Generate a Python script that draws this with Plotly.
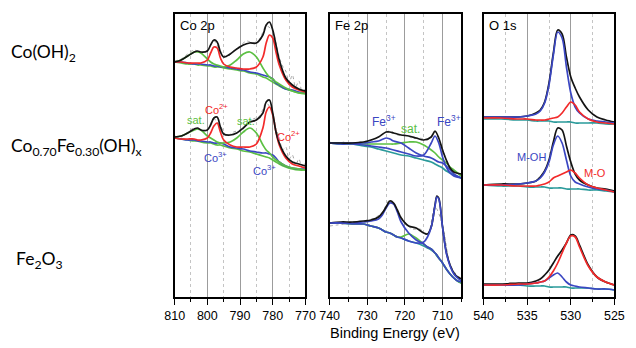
import plotly.graph_objects as go

# ---------------- data (intensity in arbitrary units, stacked offsets) ----------------
# Co 2p panel
co_ev = [810, 808, 806, 804, 803, 802, 800, 799, 798, 797, 796, 795, 793, 791, 789, 787,
         785, 783, 782, 781, 780, 779, 778, 776, 774, 772, 770]
co_top_env = [235, 237, 241, 245, 246, 245, 246, 252, 257, 255, 245, 240, 243, 248, 252, 254,
              254, 262, 272, 275, 267, 252, 237, 219, 212, 208, 206]
co_top_co2 = [235, 235, 234, 234, 234, 234, 237, 244, 250, 249, 239, 233, 230, 229, 228, 228,
              230, 240, 254, 262, 259, 245, 232, 217, 210, 207, 205]
co_top_sat = [235, 237, 241, 245, 245, 244, 238, 235, 233, 232, 231, 230, 232, 237, 243, 245,
              240, 229, 224, 220, 218, 215, 213, 209, 206, 204, 204]
co_top_co3 = [235, 235, 234, 233, 233, 233, 232, 232, 231, 231, 230, 230, 229, 228, 227, 225,
              224, 222, 221, 220, 218, 214, 212, 208, 207, 205, 204]
co_top_bg = [235, 234, 233, 233, 232, 232, 231, 231, 230, 230, 230, 229, 228, 227, 226, 224,
             223, 220, 219, 217, 215, 213, 211, 208, 206, 204, 203]

co_mid_env = [160, 161, 164, 168, 169, 167, 167, 172, 179, 180, 170, 163, 162, 164, 169, 175,
              177, 184, 195, 197, 184, 165, 154, 141, 135, 133, 131]
co_mid_co2 = [159, 158, 158, 158, 157, 157, 159, 164, 171, 174, 165, 157, 152, 150, 150, 150,
              153, 169, 185, 190, 182, 165, 152, 139, 133, 131, 129]
co_mid_sat = [160, 161, 164, 167, 168, 167, 161, 159, 157, 155, 154, 154, 155, 159, 165, 169,
              164, 152, 147, 144, 140, 137, 135, 131, 129, 128, 127]
co_mid_co3 = [159, 158, 157, 157, 156, 156, 155, 155, 154, 154, 154, 153, 150, 149, 148, 146,
              145, 144, 144, 143, 142, 139, 135, 131, 129, 128, 128]
co_mid_bg = [159, 158, 157, 156, 156, 155, 154, 154, 153, 152, 152, 151, 149, 148, 146, 145,
             143, 141, 140, 139, 137, 135, 133, 130, 128, 127, 127]

co_raw_ev = [810, 808, 806, 804, 802, 800, 798, 796, 794, 792, 790, 788, 786, 784, 782, 780,
             779, 778, 777, 776, 775, 774, 773, 772, 771, 770]
co_top_raw = [236, 238, 243, 247, 244, 247, 256, 246, 240, 246, 251, 256, 254, 258, 271, 266,
              254, 240, 231, 226, 214, 222, 210, 216, 206, 208]
co_mid_raw = [161, 160, 165, 169, 166, 168, 178, 171, 161, 165, 167, 173, 178, 181, 194, 184,
              168, 160, 147, 150, 138, 142, 132, 138, 129, 134]

# Fe 2p panel
fe_mid_ev = [740, 737, 734, 731, 729, 727, 725, 724, 723, 721, 719, 717, 715, 713, 712, 711,
             710, 709, 708, 707, 705]
fe_mid_env = [154, 154, 154, 155, 157, 160, 165, 165, 164, 162, 161, 159, 157, 160, 166, 159,
              147, 137, 129, 125, 123]
fe_mid_fe3a = [154, 154, 154, 154, 155, 156, 159, 158, 156, 154, 149, 144, 141, 139, 137, 135,
               134, 131, 127, 123, 119]
fe_mid_fe3b = [154, 153, 153, 152, 151, 150, 149, 148, 147, 145, 143, 141, 142, 154, 161, 154,
               140, 130, 124, 121, 119]
fe_mid_sat = [154, 154, 153, 153, 153, 153, 153, 153, 153, 154, 155, 155, 152, 147, 144, 140,
              137, 134, 130, 127, 121]
fe_mid_bg = [154, 153, 153, 151, 150, 148, 146, 145, 144, 142, 141, 139, 137, 135, 133, 131,
             129, 126, 124, 122, 119]

fe_bot_ev = [740, 737, 734, 731, 729, 727, 726, 725, 724, 723, 722, 721, 719, 717, 715, 714,
             713, 712, 711.5, 711, 710, 709, 708, 707, 706, 705]
fe_bot_env = [74, 75, 75, 76, 77, 80, 84, 90, 96, 94, 87, 79, 71, 69, 64, 63,
              70, 92, 101, 99, 70, 45, 32, 24, 20, 18]
fe_bot_fe3a = [74, 74, 74, 75, 76, 78, 82, 89, 94, 93, 85, 75, 64, 57, 53, 50,
               48, 44, 42, 39, 34, 28, 23, 19, 16, 15]
fe_bot_fe3b = [74, 74, 73, 73, 71, 69, 67, 65, 64, 62, 60, 59, 56, 54, 55, 60,
               70, 91, 100, 98, 70, 44, 31, 23, 19, 16]
fe_bot_sat = [74, 74, 73, 73, 71, 69, 67, 65, 64, 62, 60, 60, 63, 59, 53, 50,
              48, 44, 42, 39, 34, 28, 23, 19, 16, 14]
fe_bot_bg = [74, 74, 73, 73, 71, 69, 67, 65, 64, 62, 60, 59, 56, 54, 51, 49,
             47, 44, 41, 39, 34, 28, 23, 19, 16, 14]

fe_raw_ev = [740, 738, 736, 734, 732, 730, 728, 726, 724, 722, 720, 718, 716, 714, 712, 710,
             708, 706, 705]
fe_mid_raw = [155, 153, 155, 153, 155, 156, 158, 163, 166, 162, 162, 159, 159, 157, 165, 148,
              129, 124, 122]
fe_bot_raw = [71, 72, 73, 75, 75, 77, 79, 85, 97, 86, 75, 68, 68, 62, 90, 72,
              33, 21, 19]

# O 1s panel
o_ev = [540, 538, 536, 535, 534, 533.5, 533, 532.5, 532, 531.5, 531, 530.5, 530, 529.5, 529,
        528, 527, 526, 525]
o_top_env = [180, 180, 180, 181, 184, 187, 195, 214, 244, 267, 263, 240, 220, 209, 200,
             187, 180, 177, 175]
o_top_moh = [180, 180, 180, 181, 183, 186, 194, 212, 242, 265, 259, 230, 204, 190, 184,
             178, 176, 175, 174]
o_top_mo = [179, 179, 178, 178, 177, 177, 177, 178, 179, 180, 184, 190, 195, 192, 185,
            178, 175, 174, 173]
o_top_bg = [178, 178, 177, 177, 176, 176, 176, 176, 175, 175, 175, 175, 175, 174, 174,
            174, 174, 173, 173]

o_mid_env = [112, 113, 113, 114, 116, 120, 126, 137, 155, 169, 167, 151, 135, 123, 117,
             112, 109, 108, 106]
o_mid_moh = [112, 112, 113, 114, 116, 119, 125, 135, 152, 161, 154, 137, 121, 115, 113,
             110, 108, 107, 105]
o_mid_mo = [112, 112, 111, 111, 111, 112, 113, 115, 119, 121, 123, 125, 127, 124, 119,
            112, 109, 107, 105]
o_mid_bg = [112, 111, 111, 110, 110, 110, 110, 109, 109, 109, 109, 108, 108, 108, 108,
            107, 107, 106, 105]

o_bot_env = [13, 13, 14, 14, 16, 18, 22, 27, 34, 41, 47, 54, 62, 61, 52, 32, 20, 15, 12]
o_bot_mo = [12, 12, 13, 13, 14, 15, 16, 20, 26, 34, 44, 54, 61, 60, 50, 31, 20, 15, 12]
o_bot_moh = [12, 12, 12, 13, 14, 15, 16, 19, 22, 24, 20, 15, 12, 11, 10, 9, 8, 8, 7]
o_bot_bg = [12, 12, 12, 11, 11, 11, 11, 10, 10, 10, 10, 10, 9, 9, 9, 9, 8, 8, 7]

panel_titles = ["Co 2p", "Fe 2p", "O 1s"]
sample_labels = ["Co(OH)<sub>2</sub>",
                 "Co<sub>0.70</sub>Fe<sub>0.30</sub>(OH)<sub>x</sub>",
                 "Fe<sub>2</sub>O<sub>3</sub>"]
x_title = "Binding Energy (eV)"

# ---------------- styling ----------------
W, H = 636, 348
RED = '#f22a2a'
GREEN = '#5cc043'
BLUE = '#3a46c2'
TEAL = '#2a9a9a'
BLACK = '#141414'
GRAY = '#a4a4a4'

fig = go.Figure()


def line(x, y, color, ax, width=1.7, dash=None):
    fig.add_trace(go.Scatter(
        x=x, y=y, mode='lines',
        line=dict(color=color, width=width, shape='spline', smoothing=0.9, dash=dash),
        xaxis=ax[0], yaxis=ax[1], hoverinfo='skip', showlegend=False))


A1, A2, A3 = ('x', 'y'), ('x2', 'y2'), ('x3', 'y3')

# Co panel
line(co_raw_ev, co_top_raw, GRAY, A1, 1, 'dot')
line(co_raw_ev, co_mid_raw, GRAY, A1, 1, 'dot')
for env, co2, sat, co3, bg in [(co_top_env, co_top_co2, co_top_sat, co_top_co3, co_top_bg),
                               (co_mid_env, co_mid_co2, co_mid_sat, co_mid_co3, co_mid_bg)]:
    line(co_ev, bg, GREEN, A1)
    line(co_ev, co3, BLUE, A1)
    line(co_ev, sat, GREEN, A1)
    line(co_ev, co2, RED, A1)
    line(co_ev, env, BLACK, A1)

# Fe panel
line(fe_raw_ev, fe_mid_raw, GRAY, A2, 1, 'dot')
line(fe_raw_ev, fe_bot_raw, GRAY, A2, 1, 'dot')
line(fe_mid_ev, fe_mid_bg, TEAL, A2)
line(fe_mid_ev, fe_mid_sat, GREEN, A2)
line(fe_mid_ev, fe_mid_fe3a, BLUE, A2)
line(fe_mid_ev, fe_mid_fe3b, BLUE, A2)
line(fe_mid_ev, fe_mid_env, BLACK, A2)
line(fe_bot_ev, fe_bot_bg, TEAL, A2)
line(fe_bot_ev, fe_bot_sat, GREEN, A2)
line(fe_bot_ev, fe_bot_fe3a, BLUE, A2)
line(fe_bot_ev, fe_bot_env, BLACK, A2)
line(fe_bot_ev, fe_bot_fe3b, BLUE, A2)

# O panel
for env, moh, mo, bg in [(o_top_env, o_top_moh, o_top_mo, o_top_bg),
                         (o_mid_env, o_mid_moh, o_mid_mo, o_mid_bg),
                         (o_bot_env, o_bot_moh, o_bot_mo, o_bot_bg)]:
    line(o_ev, bg, TEAL, A3)
    line(o_ev, env, BLACK, A3)
    line(o_ev, moh, BLUE, A3)
    line(o_ev, mo, RED, A3)

tickfont = dict(family='Liberation Sans, Arial, sans-serif', size=12.5, color='black')


def xax(dom, rng, dtick, tick0, mdtick, mtick0, anchor):
    return dict(domain=[dom[0] / W, dom[1] / W], range=rng, dtick=dtick, tick0=tick0,
                showline=True, linecolor='black', linewidth=1.5, mirror=True,
                ticks='outside', ticklen=6, tickwidth=1, tickcolor='black',
                showgrid=True, gridcolor='#9c9c9c', gridwidth=1.2, zeroline=False,
                tickfont=tickfont, anchor=anchor,
                minor=dict(dtick=mdtick, tick0=mtick0, ticks='outside', ticklen=3,
                           tickcolor='black', showgrid=True, gridcolor='#c4c4c4',
                           griddash='dot', gridwidth=1))


def yax(anchor):
    return dict(domain=[51 / H, 334 / H], range=[0, 283], showline=True, linecolor='black',
                linewidth=1.5, mirror=True, ticks='', showticklabels=False, showgrid=False,
                zeroline=False, anchor=anchor)


fig.update_layout(
    width=W, height=H, margin=dict(l=0, r=0, t=0, b=0),
    paper_bgcolor='white', plot_bgcolor='white', showlegend=False,
    xaxis=xax((170, 305), [810, 770], 10, 770, 5, 775, 'y'),
    xaxis2=xax((330, 466), [740, 705], 10, 710, 5, 705, 'y2'),
    xaxis3=xax((489, 624), [540, 525], 5, 525, 2.5, 527.5, 'y3'),
    yaxis=yax('x'), yaxis2=yax('x2'), yaxis3=yax('x3'),
)

ann = []
lab = 'Liberation Sans, Arial, sans-serif'
# panel titles
for xp, t in zip((173, 333, 493), panel_titles):
    ann.append(dict(x=xp / W, y=(H - 26) / H, xref='paper', yref='paper', text=t,
                    xanchor='left', yanchor='middle', showarrow=False,
                    font=dict(family=lab, size=13, color='black')))
# sample labels
for yp, t, xp in zip((53, 147, 260), sample_labels, (-1, -1, 4)):
    ann.append(dict(x=xp / W, y=(H - yp) / H, xref='paper', yref='paper', text=t,
                    xanchor='left', yanchor='middle', showarrow=False,
                    font=dict(family='Lato, Noto Sans, sans-serif', size=17.5, color='black')))
# axis title
ann.append(dict(x=397 / W, y=(H - 333) / H, xref='paper', yref='paper', text=x_title,
                xanchor='center', yanchor='middle', showarrow=False,
                font=dict(family=lab, size=14.5, color='black')))

# component labels (data coordinates)
comp = [
    ('x', 'y', 803.5, 177, 'sat.', GREEN, 11),
    ('x', 'y', 797.3, 188, 'Co<sup>2+</sup>', RED, 11),
    ('x', 'y', 788.2, 176, 'sat.', GREEN, 11),
    ('x', 'y', 775.3, 161, 'Co<sup>2+</sup>', RED, 11),
    ('x', 'y', 797.6, 140, 'Co<sup>3+</sup>', BLUE, 11),
    ('x', 'y', 782.4, 127, 'Co<sup>3+</sup>', BLUE, 11),
    ('x2', 'y2', 725.5, 176, 'Fe<sup>3+</sup>', BLUE, 12),
    ('x2', 'y2', 718.6, 168, 'sat.', GREEN, 12),
    ('x2', 'y2', 708.3, 176, 'Fe<sup>3+</sup>', BLUE, 12),
    ('x3', 'y3', 534.5, 140, 'M-OH', BLUE, 11),
    ('x3', 'y3', 527.2, 124, 'M-O', RED, 11),
]
for xr, yr, xv, yv, t, c, s in comp:
    ann.append(dict(x=xv, y=yv, xref=xr, yref=yr, text=t, showarrow=False,
                    xanchor='center', yanchor='middle',
                    font=dict(family=lab, size=s, color=c)))

fig.update_layout(annotations=ann)
fig.write_html("out.html", config={'displayModeBar': False},
               post_script="document.body.style.margin='0';document.body.style.padding='0';"
                           "document.body.style.overflow='hidden';")
